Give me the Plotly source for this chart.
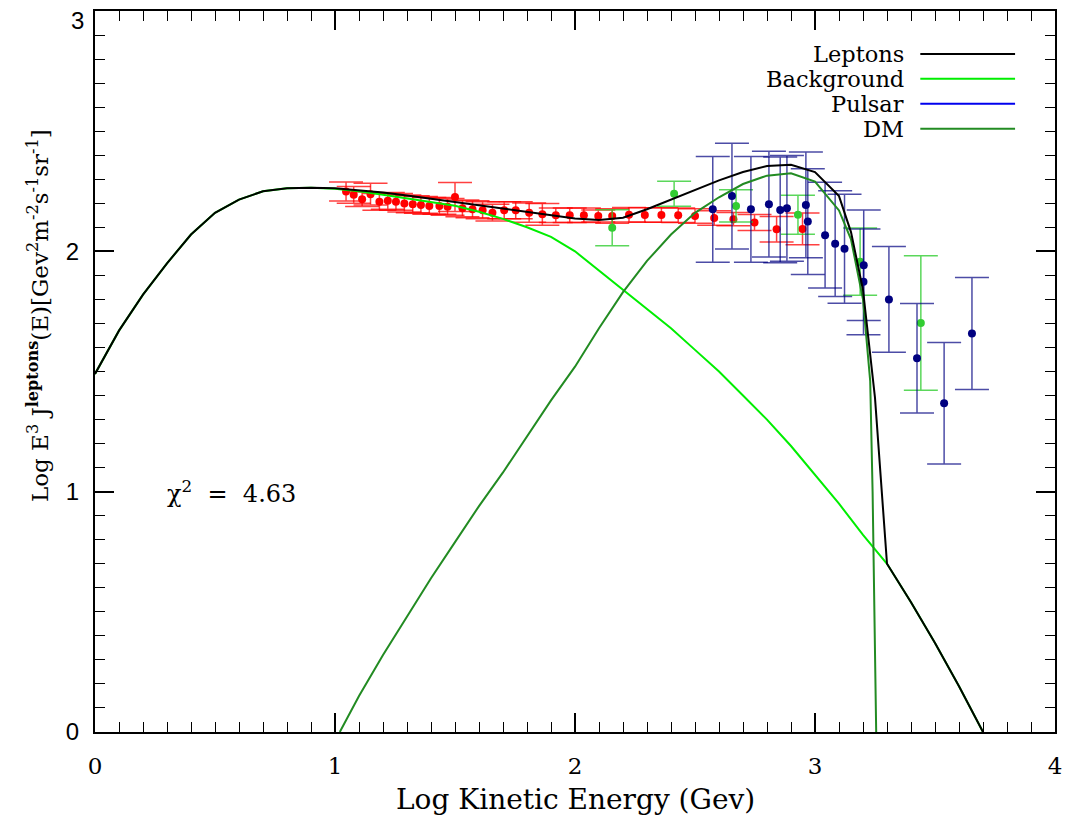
import plotly.graph_objects as go

# ---------------- data ----------------
lep_x = [0.0, 0.1, 0.2, 0.3, 0.4, 0.5, 0.6, 0.7, 0.8, 0.9, 1.0, 1.1, 1.2, 1.3, 1.4, 1.5, 1.6, 1.7, 1.8, 1.9,
         2.0, 2.1, 2.2, 2.3, 2.4, 2.5, 2.6, 2.7, 2.8, 2.9, 3.0, 3.1, 3.15, 3.2, 3.25, 3.3, 3.4, 3.5, 3.6, 3.7]
lep_y = [1.49, 1.67, 1.82, 1.95, 2.07, 2.16, 2.215, 2.25, 2.262, 2.265, 2.262, 2.255, 2.245, 2.232, 2.218,
         2.205, 2.192, 2.178, 2.163, 2.148, 2.137, 2.13, 2.14, 2.175, 2.215, 2.255, 2.295, 2.33, 2.355, 2.36,
         2.33, 2.23, 2.08, 1.84, 1.39, 0.70, 0.54, 0.37, 0.19, 0.0]

bg_x = [0.0, 0.1, 0.2, 0.3, 0.4, 0.5, 0.6, 0.7, 0.8, 0.9, 1.0, 1.1, 1.2, 1.3, 1.4, 1.5, 1.6, 1.7, 1.8, 1.9,
        2.0, 2.1, 2.2, 2.3, 2.4, 2.5, 2.6, 2.7, 2.8, 2.9, 3.0, 3.1, 3.2, 3.3, 3.4, 3.5, 3.6, 3.7]
bg_y = [1.49, 1.67, 1.82, 1.95, 2.07, 2.16, 2.215, 2.25, 2.262, 2.265, 2.26, 2.25, 2.235, 2.22, 2.205,
        2.19, 2.165, 2.135, 2.10, 2.06, 2.00, 1.92, 1.84, 1.76, 1.68, 1.59, 1.50, 1.40, 1.30, 1.19,
        1.07, 0.95, 0.82, 0.70, 0.54, 0.37, 0.19, 0.0]

dm_x = [1.02, 1.1, 1.2, 1.3, 1.4, 1.5, 1.6, 1.7, 1.8, 1.9, 2.0, 2.1, 2.2, 2.3, 2.4, 2.5, 2.6, 2.7, 2.8,
        2.9, 3.0, 3.1, 3.15, 3.2, 3.23, 3.24, 3.255]
dm_y = [0.0, 0.15, 0.32, 0.48, 0.64, 0.79, 0.94, 1.08, 1.23, 1.38, 1.52, 1.68, 1.83, 1.96, 2.07, 2.16,
        2.225, 2.28, 2.315, 2.325, 2.29, 2.17, 2.05, 1.80, 1.46, 1.0, 0.0]

red_x = [1.046, 1.078, 1.113, 1.148, 1.185, 1.220, 1.254, 1.289, 1.324, 1.358, 1.393, 1.435, 1.469, 1.500,
         1.531, 1.573, 1.615, 1.656, 1.705, 1.753, 1.809, 1.864, 1.920, 1.978, 2.037, 2.097, 2.155, 2.225,
         2.291, 2.360, 2.430, 2.500, 2.580, 2.660, 2.748, 2.840, 2.948]
red_y = [2.249, 2.235, 2.217, 2.238, 2.206, 2.210, 2.206, 2.199, 2.196, 2.193, 2.189, 2.189, 2.185, 2.226,
         2.179, 2.175, 2.171, 2.161, 2.171, 2.171, 2.161, 2.154, 2.150, 2.150, 2.150, 2.147, 2.147, 2.152,
         2.151, 2.151, 2.150, 2.147, 2.139, 2.134, 2.120, 2.092, 2.093]
red_err = [0.04, 0.035, 0.03, 0.045, 0.035, 0.035, 0.035, 0.035, 0.035, 0.035, 0.035, 0.035, 0.035, 0.06,
           0.035, 0.035, 0.035, 0.035, 0.035, 0.035, 0.04, 0.045, 0.03, 0.03, 0.03, 0.025, 0.03, 0.03,
           0.03, 0.03, 0.03, 0.03, 0.03, 0.028, 0.033, 0.053, 0.066]

green_x = [2.155, 2.413, 2.671, 2.929, 3.188, 3.441]
green_y = [2.098, 2.240, 2.189, 2.152, 1.957, 1.702]
green_err = [0.075, 0.052, 0.067, 0.081, 0.14, 0.28]

blue_x = [2.574, 2.654, 2.733, 2.808, 2.855, 2.883, 2.962, 2.970, 3.042, 3.084, 3.123, 3.203, 3.202,
          3.308, 3.425, 3.538, 3.654]
blue_y = [2.175, 2.230, 2.175, 2.196, 2.172, 2.179, 2.193, 2.124, 2.067, 2.032, 2.011, 1.942, 1.873,
          1.800, 1.555, 1.368, 1.658]
blue_err = [0.22, 0.22, 0.22, 0.22, 0.22, 0.22, 0.22, 0.22, 0.22, 0.22, 0.227, 0.23, 0.22, 0.22,
            0.228, 0.253, 0.233]

x_tickvals = [0, 1, 2, 3, 4]
y_tickvals = [0, 1, 2, 3]

legend_names = ["Leptons", "Background", "Pulsar", "DM"]
legend_colors = ["black", "#00ee00", "#0000ee", "#228B22"]

chi2_label = "\u03c7<sup>2</sup>  =  4.63"
x_title = "Log Kinetic Energy (Gev)"
y_title = ("Log E<sup>3</sup> J<sup><b>leptons</b></sup>(E)[Gev<sup>2</sup>m<sup>-2</sup>"
           "s<sup>-1</sup>sr<sup>-1</sup>]")

SERIF = "DejaVu Serif"
SANS = "Liberation Sans"

fig = go.Figure()

# data points
fig.add_trace(go.Scatter(
    x=red_x, y=red_y, mode="markers",
    marker=dict(color="#ff0000", size=8),
    error_y=dict(type="data", array=red_err, color="rgba(255,0,0,0.75)", thickness=1.5, width=17),
    showlegend=False))
fig.add_trace(go.Scatter(
    x=green_x, y=green_y, mode="markers",
    marker=dict(color="#32CD32", size=8),
    error_y=dict(type="data", array=green_err, color="rgba(50,205,50,0.8)", thickness=1.5, width=17),
    showlegend=False))
fig.add_trace(go.Scatter(
    x=blue_x, y=blue_y, mode="markers",
    marker=dict(color="#000080", size=8),
    error_y=dict(type="data", array=blue_err, color="rgba(0,0,128,0.7)", thickness=1.5, width=17),
    showlegend=False))

# model curves
fig.add_trace(go.Scatter(x=bg_x, y=bg_y, mode="lines",
                         line=dict(color="#00ee00", width=2), showlegend=False))
fig.add_trace(go.Scatter(x=dm_x, y=dm_y, mode="lines",
                         line=dict(color="#228B22", width=2), showlegend=False))
fig.add_trace(go.Scatter(x=lep_x, y=lep_y, mode="lines",
                         line=dict(color="black", width=2), showlegend=False))

# manual legend (text right-aligned, line sample to the right)
leg_y = [0.9405, 0.906, 0.8714, 0.8368]
for name, col, yy in zip(legend_names, legend_colors, leg_y):
    fig.add_annotation(xref="paper", yref="paper", x=0.845, y=yy, text=name,
                       showarrow=False, xanchor="right", yanchor="middle",
                       font=dict(family=SERIF, size=22.5, color="black"))
    fig.add_shape(type="line", xref="paper", yref="paper", x0=0.8597, x1=0.9584, y0=yy, y1=yy,
                  line=dict(color=col, width=2))

fig.add_annotation(x=0.29, y=1.0, xref="x", yref="y", text=chi2_label, showarrow=False,
                   xanchor="left", yanchor="middle", font=dict(family=SERIF, size=24, color="black"))

fig.add_annotation(xref="paper", yref="paper", x=0.5, y=-0.094, text=x_title, showarrow=False,
                   xanchor="center", yanchor="middle", font=dict(family=SERIF, size=28, color="black"))
fig.add_annotation(xref="paper", yref="paper", x=-0.0593, y=0.577, text=y_title, showarrow=False,
                   textangle=-90, xanchor="center", yanchor="middle",
                   font=dict(family=SERIF, size=23, color="black"))

# top y tick label "3" sits just below the frame corner
fig.add_annotation(x=0, y=3, xref="paper", yref="y", text=str(y_tickvals[-1]), showarrow=False,
                   xanchor="right", yanchor="middle", xshift=-9, yshift=-9,
                   font=dict(family=SANS, size=24, color="black"))

axis_common = dict(showgrid=False, zeroline=False, showline=True, linecolor="black", linewidth=2,
                   mirror="ticks", ticks="inside", ticklen=19, tickwidth=1.5, tickcolor="black",
                   minor=dict(dtick=0.1, ticks="inside", ticklen=10, tickwidth=1.2, tickcolor="black"))

fig.update_xaxes(range=[0, 4], tickmode="array", tickvals=x_tickvals,
                 ticktext=[str(v) for v in x_tickvals],
                 tickfont=dict(family=SERIF, size=23, color="black"), ticklabelstandoff=12,
                 **axis_common)
fig.update_yaxes(range=[0, 3], tickmode="array", tickvals=y_tickvals,
                 ticktext=[str(v) for v in y_tickvals[:-1]] + [""],
                 tickfont=dict(family=SANS, size=24, color="black"), ticklabelstandoff=9,
                 **axis_common)

fig.update_layout(width=1071, height=817, margin=dict(l=95, r=14, t=9, b=85),
                  plot_bgcolor="white", paper_bgcolor="white", showlegend=False)

fig.write_html("out.html")
